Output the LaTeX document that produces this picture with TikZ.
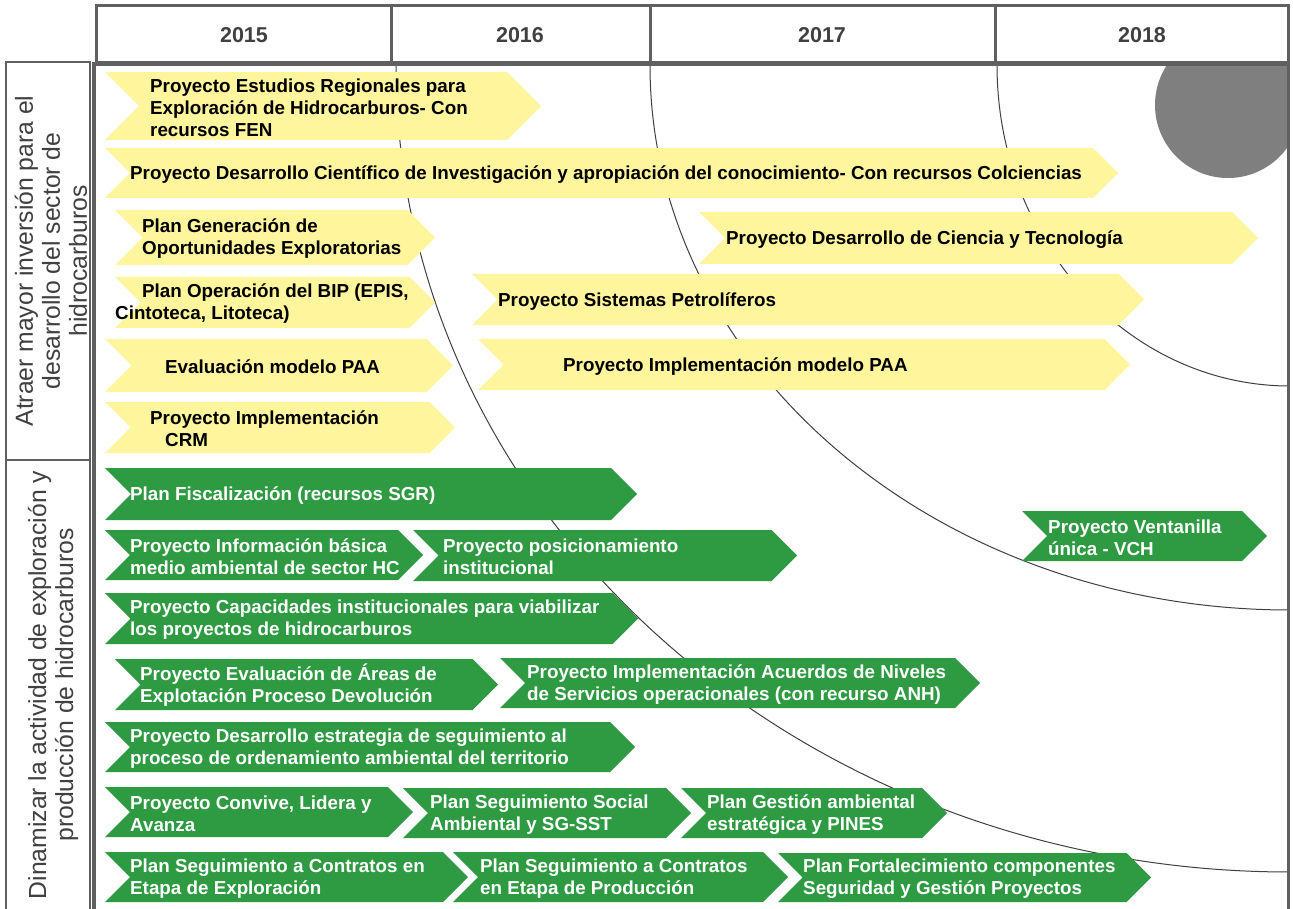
\documentclass[tikz,border=0pt]{standalone}
\usepackage{fontspec}
\setmainfont{Liberation Sans}
\definecolor{ylw}{HTML}{FFF59D}
\definecolor{grn}{HTML}{2E9A42}
\definecolor{frame}{HTML}{606060}
\definecolor{dtext}{HTML}{404040}
\definecolor{disc}{HTML}{7F7F7F}
\newcommand{\chev}[6]{%
  \pgfmathsetmacro{\hh}{(#5-#4)/2}%
  \fill[#1] (#2,#4) -- ({#3-\hh},#4) -- (#3,{#4+\hh}) -- ({#3-\hh},#5) -- (#2,#5) -- ({#2+\hh},{#4+\hh}) -- cycle;%
  \coordinate (#6) at (#2,{#4+\hh});%
}
\tikzset{
  ytext/.style={anchor=west, inner sep=0pt, yshift=-1.5pt, align=left, text=black, font=\bfseries\fontsize{18.8}{22}\selectfont},
  gtext/.style={anchor=west, inner sep=0pt, yshift=-1.5pt, align=left, text=white, font=\bfseries\fontsize{18.8}{22}\selectfont},
  yearlabel/.style={inner sep=0pt, text=dtext, font=\bfseries\fontsize{21.5}{24}\selectfont},
  grouplabel/.style={inner sep=0pt, rotate=90, align=center, text=dtext, font=\fontsize{24.7}{27}\selectfont},
  framestroke/.style={draw=frame, line width=3pt},
  arcline/.style={draw=dtext, line width=1pt},
}
\begin{document}
\begin{tikzpicture}[x=1pt,y=-1pt]
\useasboundingbox (0,0) rectangle (1293,909);
\fill[white] (0,0) rectangle (1293,909);

% gray disc and arcs (clipped to content area)
\begin{scope}
  \clip (94,63) rectangle (1288,909);
  \fill[disc] (1228,105) circle[radius=73pt];
  \draw[arcline] (396,65) arc[start angle=180,end angle=270,x radius=894pt,y radius=807pt];
  \draw[arcline] (650,65) arc[start angle=180,end angle=270,x radius=640pt,y radius=545pt];
  \draw[arcline] (997,65) arc[start angle=180,end angle=270,x radius=293pt,y radius=321pt];
\end{scope}

% header
\draw[framestroke] (96,6) rectangle (1288,63);
\draw[framestroke, line width=4pt] (94,64) -- (1290,64);
\draw[framestroke] (391,6) -- (391,63);
\draw[framestroke] (650,6) -- (650,63);
\draw[framestroke] (995,6) -- (995,63);
\node[yearlabel] (y15) at (244,35) {2015};
\node[yearlabel] (y16) at (520,35) {2016};
\node[yearlabel] (y17) at (822,35) {2017};
\node[yearlabel] (y18) at (1142,35) {2018};

% content frame
\draw[framestroke, line width=4pt] (94,62) -- (94,912);
\draw[framestroke] (1288,62) -- (1288,912);

% group column
\draw[framestroke, line width=2.5pt] (6,912) -- (6,62) -- (90,62) -- (90,912);
\draw[framestroke, line width=2.5pt] (6,460) -- (90,460);
\node[grouplabel] (g1) at (51,261) {Atraer mayor inversión para el\\desarrollo del sector de\\hidrocarburos};
\node[grouplabel] (g2) at (53,685) {Dinamizar la actividad de exploración y\\producción de hidrocarburos};

% yellow chevrons
\chev{ylw}{105}{541}{72}{140}{a1}
\chev{ylw}{105}{1118}{148}{198}{a2}
\chev{ylw}{115}{435}{210}{265}{a3}
\chev{ylw}{699}{1258}{212}{264}{a4}
\chev{ylw}{115}{435}{277}{328}{a5}
\chev{ylw}{472}{1144}{274}{325}{a6}
\chev{ylw}{105}{453}{339}{392}{a7}
\chev{ylw}{478}{1130}{339}{390}{a8}
\chev{ylw}{105}{455}{402}{453}{a9}

% green chevrons
\chev{grn}{105}{637}{468}{520}{a10}
\chev{grn}{105}{423}{530}{580}{a11}
\chev{grn}{413}{797}{530}{581}{a12}
\chev{grn}{1022}{1267}{511}{561}{a13}
\chev{grn}{105}{638}{593}{644}{a14}
\chev{grn}{115}{498}{659}{710}{a15}
\chev{grn}{500}{980}{658}{708}{a16}
\chev{grn}{105}{635}{722}{772}{a17}
\chev{grn}{105}{413}{787}{837}{a18}
\chev{grn}{403}{691}{788}{838}{a19}
\chev{grn}{681}{947}{788}{838}{a20}
\chev{grn}{105}{468}{852}{902}{a21}
\chev{grn}{453}{788}{852}{902}{a22}
\chev{grn}{778}{1151}{853}{902}{a23}

% texts
\node[ytext] (t1) at (150,106) {Proyecto Estudios Regionales para\\Exploración de Hidrocarburos- Con\\recursos FEN};
\node[ytext] (t2) at (130,173) {Proyecto Desarrollo Científico de Investigación y apropiación del conocimiento- Con recursos Colciencias};
\node[ytext] (t3) at (142,237) {Plan Generación de\\Oportunidades Exploratorias};
\node[ytext] (t4) at (726,238) {Proyecto Desarrollo de Ciencia y Tecnología};
\node[ytext] (t5) at (115,302) {\hspace*{27pt}Plan Operación del BIP (EPIS,\\Cintoteca, Litoteca)};
\node[ytext] (t6) at (498,300) {Proyecto Sistemas Petrolíferos};
\node[ytext] (t7) at (165,365) {Evaluación modelo PAA};
\node[ytext] (t8) at (563,365) {Proyecto Implementación modelo PAA};
\node[ytext] (t9) at (150,427) {Proyecto Implementación\\\hspace*{15pt}CRM};

\node[gtext] (t10) at (130,494) {Plan Fiscalización (recursos SGR)};
\node[gtext] (t11) at (130,555) {Proyecto Información básica\\medio ambiental de sector HC};
\node[gtext] (t12) at (443,555) {Proyecto posicionamiento\\institucional};
\node[gtext] (t13) at (1048,536) {Proyecto Ventanilla\\única - VCH};
\node[gtext] (t14) at (130,618) {Proyecto Capacidades institucionales para viabilizar\\los proyectos de hidrocarburos};
\node[gtext] (t15) at (140,684) {Proyecto Evaluación de Áreas de\\Explotación Proceso Devolución};
\node[gtext] (t16) at (527,683) {Proyecto Implementación Acuerdos de Niveles\\de Servicios operacionales (con recurso ANH)};
\node[gtext] (t17) at (130,747) {Proyecto Desarrollo estrategia de seguimiento al\\proceso de ordenamiento ambiental del territorio};
\node[gtext] (t18) at (130,812) {Proyecto Convive, Lidera y\\Avanza};
\node[gtext] (t19) at (430,813) {Plan Seguimiento Social\\Ambiental y SG-SST};
\node[gtext] (t20) at (707,813) {Plan Gestión ambiental\\estratégica y PINES};
\node[gtext] (t21) at (130,877) {Plan Seguimiento a Contratos en\\Etapa de Exploración};
\node[gtext] (t22) at (480,877) {Plan Seguimiento a Contratos\\en Etapa de Producción};
\node[gtext] (t23) at (803,877) {Plan Fortalecimiento componentes\\Seguridad y Gestión Proyectos};
\end{tikzpicture}
\end{document}
